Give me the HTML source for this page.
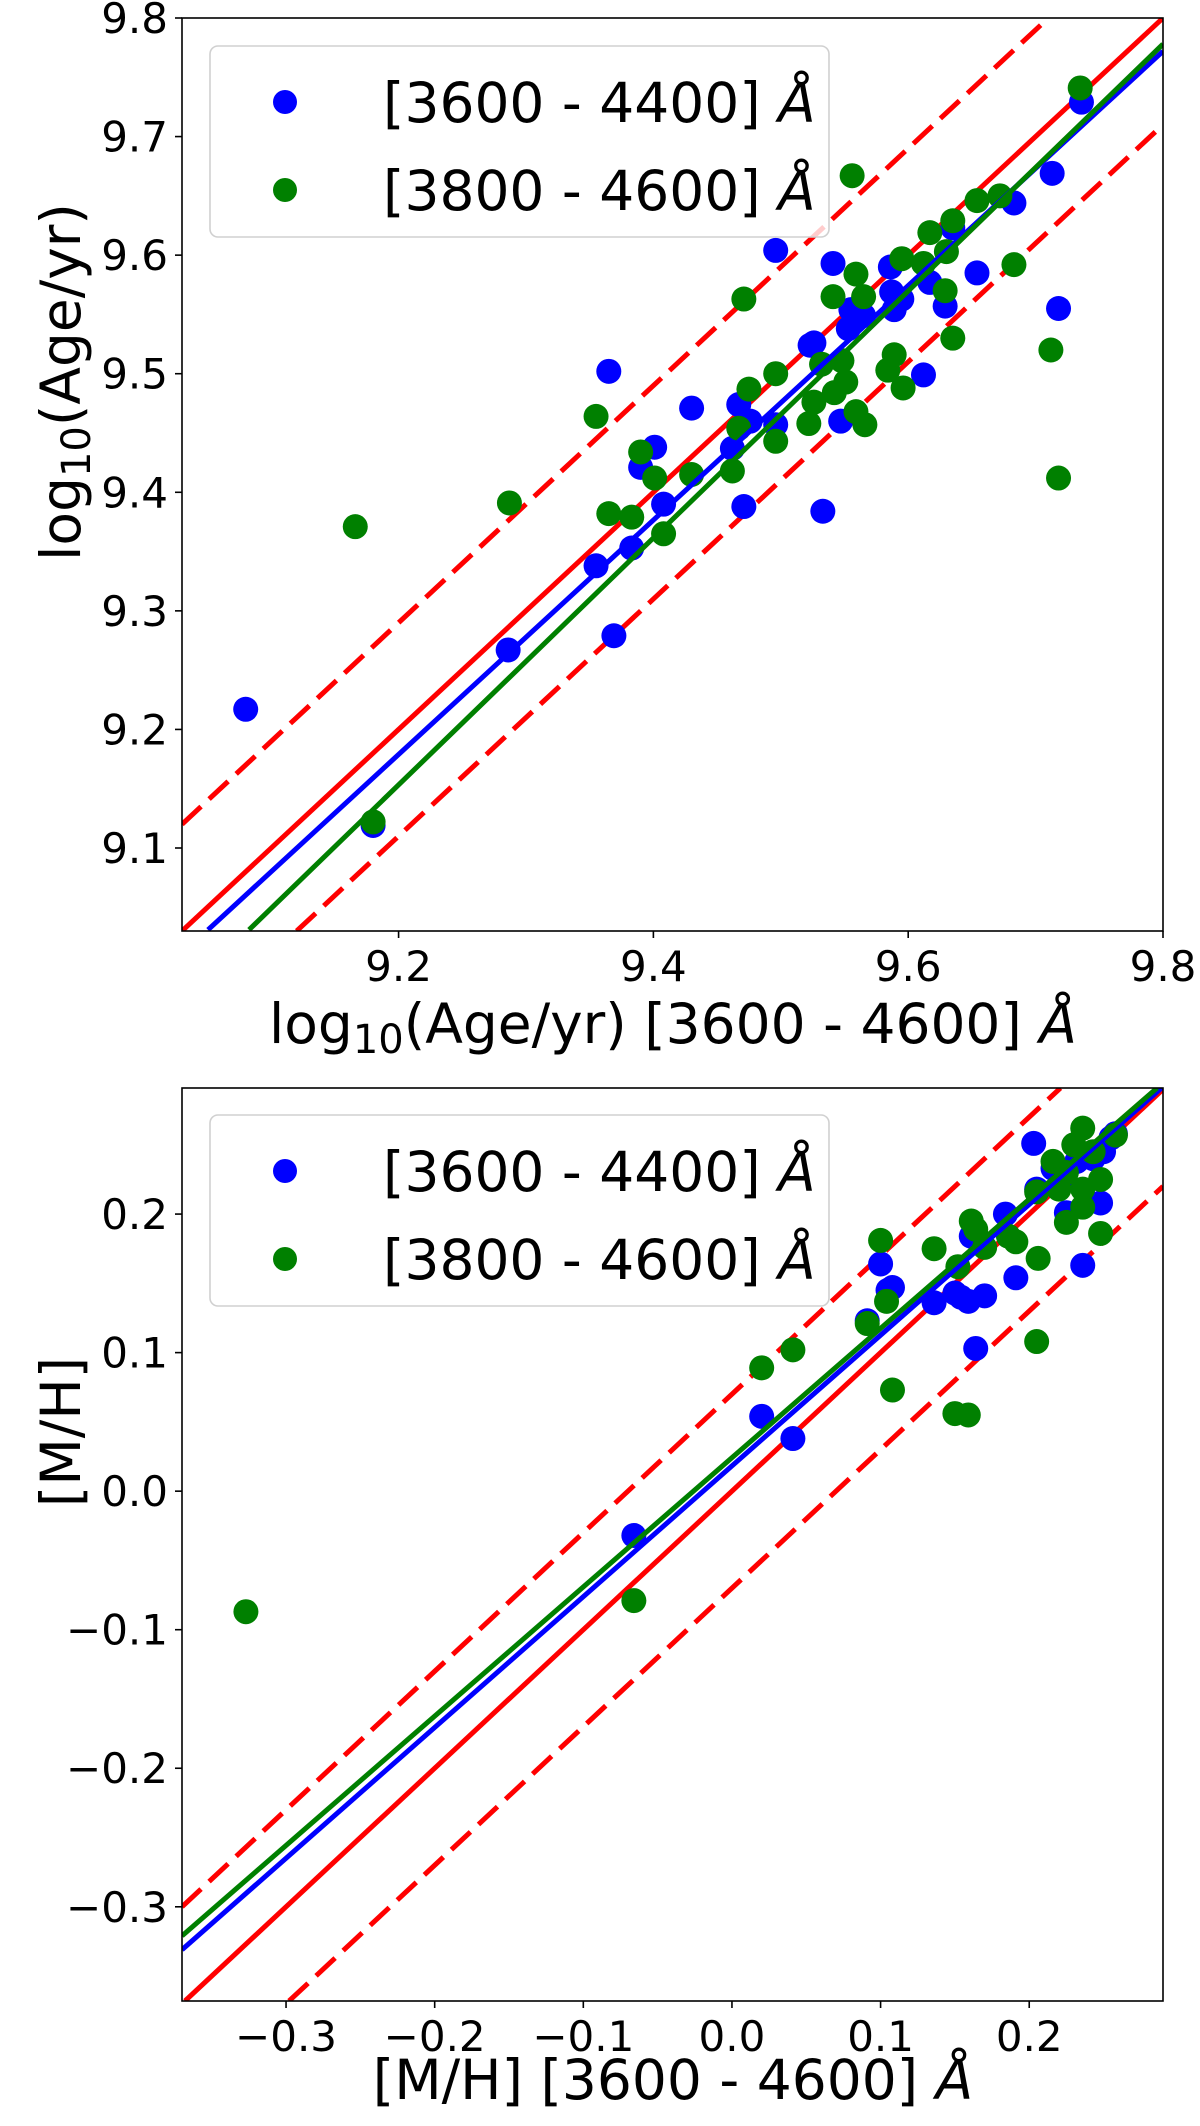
<!DOCTYPE html>
<html><head><meta charset="utf-8"><style>
body{margin:0;background:#fff}
svg{display:block;font-family:"DejaVu Sans","Liberation Sans",sans-serif}
</style></head><body>
<svg id="fig" width="1200" height="2126" viewBox="0 0 1200 2126" xmlns="http://www.w3.org/2000/svg"></svg>
<script>
// ---- Panel 1 data (log10 Age) ----
const ageBlueX=[9.080,9.180,9.286,9.355,9.365,9.369,9.383,9.390,9.401,9.408,9.430,9.462,9.467,9.471,9.476,9.496,9.496,9.523,9.526,9.533,9.541,9.547,9.553,9.555,9.565,9.586,9.587,9.589,9.595,9.612,9.617,9.629,9.635,9.654,9.683,9.713,9.718,9.736];
const ageBlueY=[9.217,9.119,9.267,9.338,9.502,9.279,9.353,9.421,9.438,9.390,9.471,9.437,9.474,9.388,9.460,9.604,9.457,9.524,9.526,9.384,9.593,9.460,9.538,9.554,9.549,9.590,9.569,9.554,9.563,9.499,9.577,9.557,9.623,9.585,9.644,9.669,9.555,9.729];
const ageGreenX=[9.166,9.180,9.287,9.355,9.365,9.383,9.390,9.401,9.408,9.430,9.462,9.467,9.471,9.475,9.496,9.496,9.522,9.526,9.532,9.541,9.542,9.548,9.551,9.556,9.559,9.559,9.565,9.566,9.584,9.589,9.595,9.596,9.612,9.617,9.629,9.630,9.635,9.635,9.654,9.672,9.683,9.712,9.718,9.735];
const ageGreenY=[9.371,9.122,9.391,9.464,9.382,9.379,9.434,9.412,9.365,9.415,9.418,9.454,9.563,9.487,9.500,9.443,9.458,9.476,9.508,9.565,9.484,9.511,9.493,9.667,9.584,9.468,9.565,9.457,9.503,9.516,9.597,9.488,9.593,9.619,9.570,9.603,9.629,9.530,9.646,9.650,9.592,9.520,9.412,9.741];
const ageFitBlue=[9.0504,9.031,9.8,9.772];
const ageFitGreen=[9.0826,9.031,9.8,9.778];
const ageOffset=[0.09,-0.09];
const ageTicks=[9.1,9.2,9.3,9.4,9.5,9.6,9.7,9.8];
const ageTickLabels=["9.1","9.2","9.3","9.4","9.5","9.6","9.7","9.8"];
const ageXTicks=[9.2,9.4,9.6,9.8];
const ageXTickLabels=["9.2","9.4","9.6","9.8"];

// ---- Panel 2 data ([M/H]) ----
const mhBlueX=[-0.066,0.020,0.041,0.091,0.100,0.105,0.108,0.136,0.150,0.154,0.159,0.161,0.164,0.170,0.184,0.191,0.203,0.205,0.216,0.225,0.232,0.236,0.243,0.248,0.250,0.255,0.258,0.221];
const mhBlueY=[-0.032,0.054,0.038,0.123,0.164,0.145,0.147,0.136,0.143,0.140,0.137,0.184,0.103,0.141,0.200,0.154,0.251,0.218,0.233,0.201,0.238,0.163,0.240,0.208,0.245,0.255,0.258,0.221];
const mhGreenX=[-0.327,-0.066,0.020,0.041,0.091,0.100,0.104,0.108,0.136,0.150,0.152,0.159,0.161,0.164,0.170,0.186,0.191,0.205,0.205,0.206,0.216,0.220,0.225,0.230,0.236,0.236,0.236,0.243,0.248,0.248,0.258,0.225];
const mhGreenY=[-0.087,-0.079,0.089,0.102,0.121,0.181,0.137,0.073,0.175,0.056,0.162,0.055,0.195,0.189,0.176,0.184,0.180,0.108,0.216,0.168,0.238,0.218,0.194,0.250,0.262,0.218,0.205,0.245,0.225,0.186,0.257,0.230];
const mhFitBlue=[-0.37,-0.331,0.289,0.291];
const mhFitGreen=[-0.37,-0.321,0.286,0.291];
const mhOffset=[0.07,-0.07];
const mhYTicks=[-0.3,-0.2,-0.1,0.0,0.1,0.2];
const mhYTickLabels=["\u22120.3","\u22120.2","\u22120.1","0.0","0.1","0.2"];
const mhXTicks=[-0.3,-0.2,-0.1,0.0,0.1,0.2];
const mhXTickLabels=["\u22120.3","\u22120.2","\u22120.1","0.0","0.1","0.2"];

const NS="http://www.w3.org/2000/svg";
const svg=document.getElementById('fig');
function mk(tag,attrs,parent){const e=document.createElementNS(NS,tag);for(const k in attrs)e.setAttribute(k,attrs[k]);(parent||svg).appendChild(e);return e;}

// clip segment y=x+o to the box, return [x1,y1,x2,y2] in data units
function clipDiag(o,xmin,xmax,ymin,ymax){
  const a=Math.max(xmin,ymin-o), b=Math.min(xmax,ymax-o);
  return [a,a+o,b,b+o];
}

function panel(cfg){
  const g=mk('g',{});
  
  
  const L=182,R=1163,T=cfg.top,B=cfg.bottom;
  const sx=v=>L+(v-cfg.xmin)/(cfg.xmax-cfg.xmin)*(R-L);
  const sy=v=>B-(v-cfg.ymin)/(cfg.ymax-cfg.ymin)*(B-T);
  const cid='clip'+cfg.name;
  const cp=mk('clipPath',{id:cid},g);mk('rect',{x:L,y:T,width:R-L,height:B-T},cp);
  const plot=mk('g',{'clip-path':'url(#'+cid+')'},g);
  const d0=clipDiag(0,cfg.xmin,cfg.xmax,cfg.ymin,cfg.ymax);
  const one=mk('line',{x1:sx(d0[0]),y1:sy(d0[1]),x2:sx(d0[2]),y2:sy(d0[3]),stroke:'#ff0000','stroke-width':5},plot);
  
  
  cfg.offset.forEach((o,i)=>{
    const dd=clipDiag(o,cfg.xmin,cfg.xmax,cfg.ymin,cfg.ymax);
    const d=mk('line',{x1:sx(dd[0]),y1:sy(dd[1]),x2:sx(dd[2]),y2:sy(dd[3]),stroke:'#ff0000','stroke-width':5,'stroke-dasharray':'26 11'},plot);
    
    
  });
  const drawPts=(xs,ys,color,nm)=>{
    xs.forEach((x,i)=>{
      const c=mk('circle',{cx:sx(x),cy:sy(ys[i]),r:12.5,fill:color},plot);
      
      
    });
  };
  drawPts(cfg.bx,cfg.by,'#0000ff','point-3600-4400');
  drawPts(cfg.gx,cfg.gy,'#008000','point-3800-4600');
  const f1=cfg.fb, f2=cfg.fg;
  const bl=mk('line',{x1:sx(f1[0]),y1:sy(f1[1]),x2:sx(f1[2]),y2:sy(f1[3]),stroke:'#0000ff','stroke-width':5},plot);
  
  
  const gl=mk('line',{x1:sx(f2[0]),y1:sy(f2[1]),x2:sx(f2[2]),y2:sy(f2[3]),stroke:'#008000','stroke-width':5},plot);
  
  
  const fr=mk('rect',{x:L,y:T,width:R-L,height:B-T,fill:'none',stroke:'#000','stroke-width':1.6},g);
  
  
  cfg.yt.forEach((v,i)=>{
    mk('line',{x1:L-7,y1:sy(v),x2:L,y2:sy(v),stroke:'#000','stroke-width':1.6},g);
    const t=mk('text',{x:L-14,y:sy(v)+15,'text-anchor':'end','font-size':42},g);
    t.textContent=cfg.ytl[i];
    
    
  });
  cfg.xt.forEach((v,i)=>{
    mk('line',{x1:sx(v),y1:B,x2:sx(v),y2:B+7,stroke:'#000','stroke-width':1.6},g);
    const t=mk('text',{x:sx(v),y:B+50,'text-anchor':'middle','font-size':42},g);
    t.textContent=cfg.xtl[i];
    
    
  });
  const xl=mk('text',{x:673,y:B+cfg.xlabelDy,'text-anchor':'middle','font-size':55},g);
  xl.innerHTML=cfg.xlabel;
  
  
  const yl=mk('text',{x:0,y:0,'text-anchor':'middle','font-size':55,transform:'translate(80,'+cfg.ylabelY+') rotate(-90)'},g);
  yl.innerHTML=cfg.ylabel;
  
  
  const lg=mk('g',{},g);
  
  
  mk('rect',{x:210,y:cfg.legTop,width:619,height:191,rx:8,fill:'#fff','fill-opacity':0.8,stroke:'#d0d0d0','stroke-width':1.6},lg);
  const ents=[['#0000ff','[3600 - 4400] ','legend-entry-3600-4400'],['#008000','[3800 - 4600] ','legend-entry-3800-4600']];
  ents.forEach((e,i)=>{
    const cy=cfg.legTop+56+i*88;
    const eg=mk('g',{},lg);
    
    
    mk('circle',{cx:285,cy:cy,r:12,fill:e[0]},eg);
    const t=mk('text',{x:383,y:cy+20,'font-size':55},eg);
    t.innerHTML=e[1]+'<tspan font-style="italic">Å</tspan>';
  });
}

panel({name:'age-panel',top:18,bottom:931,xmin:9.03,xmax:9.8,ymin:9.03,ymax:9.8,
  bx:ageBlueX,by:ageBlueY,gx:ageGreenX,gy:ageGreenY,fb:ageFitBlue,fg:ageFitGreen,offset:ageOffset,
  yt:ageTicks,ytl:ageTickLabels,xt:ageXTicks,xtl:ageXTickLabels,xlabelDy:112,
  xlabel:'log<tspan font-size="40" dy="10">10</tspan><tspan dy="-10">(Age/yr) [3600 - 4600] </tspan><tspan font-style="italic">Å</tspan>',
  ylabel:'log<tspan font-size="40" dy="10">10</tspan><tspan dy="-10">(Age/yr)</tspan>',ylabelY:382,legTop:46});

panel({name:'metallicity-panel',top:1088,bottom:2001,xmin:-0.37,xmax:0.29,ymin:-0.368,ymax:0.291,
  bx:mhBlueX,by:mhBlueY,gx:mhGreenX,gy:mhGreenY,fb:mhFitBlue,fg:mhFitGreen,offset:mhOffset,
  yt:mhYTicks,ytl:mhYTickLabels,xt:mhXTicks,xtl:mhXTickLabels,xlabelDy:98,
  xlabel:'[M/H] [3600 - 4600] <tspan font-style="italic">Å</tspan>',
  ylabel:'[M/H]',ylabelY:1432,legTop:1115});
</script>
</body></html>
